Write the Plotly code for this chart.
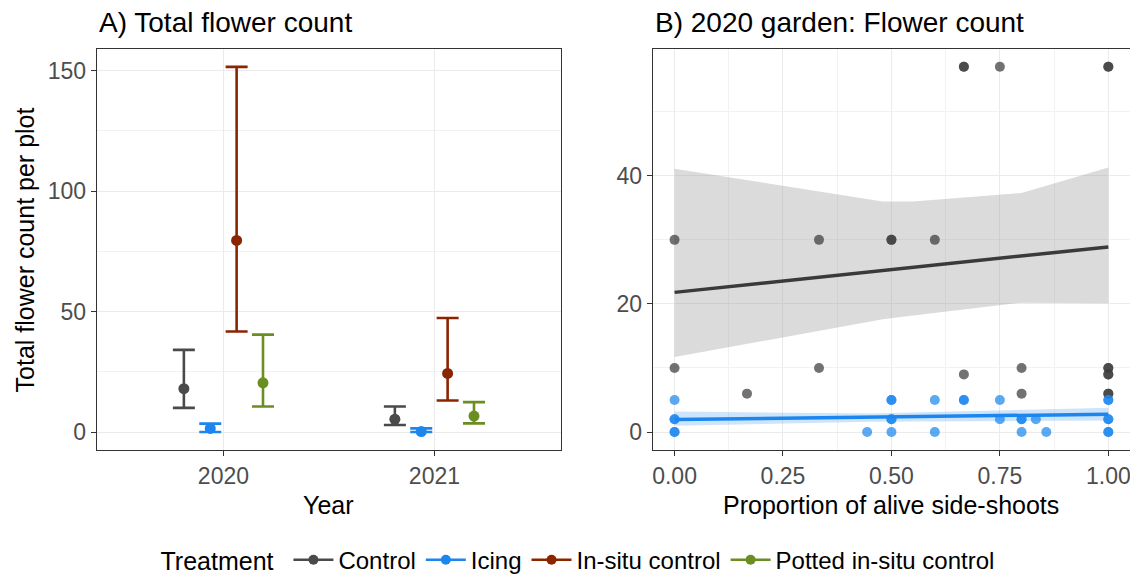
import plotly.graph_objects as go

# ---------------- Data ----------------
treatments = ["Control", "Icing", "In-situ control", "Potted in-situ control"]
colors = ["#4A4A4A", "#1C86EE", "#8B2500", "#6B8E23"]
years = ["2020", "2021"]

# Panel A: mean and interval per treatment (2020, 2021)
mean_vals = {
    "Control": [18.0, 5.3],
    "Icing": [1.5, 0.2],
    "In-situ control": [79.5, 24.3],
    "Potted in-situ control": [20.4, 6.6],
}
upper_vals = {
    "Control": [34.1, 10.6],
    "Icing": [3.5, 1.5],
    "In-situ control": [151.5, 47.3],
    "Potted in-situ control": [40.4, 12.4],
}
lower_vals = {
    "Control": [10.0, 2.9],
    "Icing": [0.0, 0.0],
    "In-situ control": [41.7, 13.1],
    "Potted in-situ control": [10.6, 3.6],
}
dodge = [-0.1875, -0.0625, 0.0625, 0.1875]

# Panel B: 2020 garden points
ctrl_x = [0, 0, 0.167, 0.333, 0.333, 0.5, 0.5, 0.6, 0.667, 0.667, 0.667, 0.75,
          0.8, 0.8, 1, 1, 1, 1, 1, 1, 1, 1]
ctrl_y = [30, 10, 6, 30, 10, 30, 30, 30, 57, 57, 9, 57,
          10, 6, 57, 57, 10, 10, 9, 9, 6, 6]
icing_x = [0, 0, 0, 0, 0, 0.444, 0.5, 0.5, 0.5, 0.5, 0.5, 0.6, 0.6, 0.667, 0.667,
           0.75, 0.75, 0.8, 0.8, 0.8, 0.833, 0.857, 1, 1, 1, 1, 1, 1]
icing_y = [5, 2, 2, 0, 0, 0, 5, 5, 2, 2, 0, 5, 0, 5, 5,
           5, 2, 2, 2, 0, 2, 0, 5, 5, 2, 2, 0, 0]

# Fitted lines and confidence bands
ctrl_fit_x = [0, 1]
ctrl_fit_y = [21.8, 28.9]
ctrl_band_x = [0, 0.48, 0.55, 0.8, 1.0]
ctrl_band_hi = [41.1, 36.0, 36.0, 37.3, 41.3]
ctrl_band_lo = [11.7, 17.6, 18.2, 20.2, 20.1]

icing_fit_x = [0, 1]
icing_fit_y = [1.95, 2.78]
icing_band_x = [0, 0.45, 1.0]
icing_band_hi = [3.2, 2.9, 3.8]
icing_band_lo = [1.0, 1.6, 1.8]

FONT = "Liberation Sans, Arial, sans-serif"

fig = go.Figure()

# ---------------- Panel A ----------------
for i, t in enumerate(treatments):
    xs = [j + 1 + dodge[i] for j in range(len(years))]
    m = mean_vals[t]
    up = [u - v for u, v in zip(upper_vals[t], m)]
    lo = [v - l for v, l in zip(m, lower_vals[t])]
    fig.add_trace(go.Scatter(
        x=xs, y=m, mode="markers", xaxis="x", yaxis="y",
        marker=dict(color=colors[i], size=11),
        error_y=dict(type="data", symmetric=False, array=up, arrayminus=lo,
                     color=colors[i], thickness=2.6, width=11),
        showlegend=False, hoverinfo="x+y",
    ))

# ---------------- Panel B ----------------
def add_band(bx, hi, lo, fill):
    fig.add_trace(go.Scatter(x=bx, y=hi, mode="lines", line=dict(width=0),
                             xaxis="x2", yaxis="y2", showlegend=False, hoverinfo="skip"))
    fig.add_trace(go.Scatter(x=bx, y=lo, mode="lines", line=dict(width=0),
                             fill="tonexty", fillcolor=fill,
                             xaxis="x2", yaxis="y2", showlegend=False, hoverinfo="skip"))

add_band(ctrl_band_x, ctrl_band_hi, ctrl_band_lo, "rgba(153,153,153,0.35)")
add_band(icing_band_x, icing_band_hi, icing_band_lo, "rgba(28,134,238,0.22)")

fig.add_trace(go.Scatter(x=ctrl_x, y=ctrl_y, mode="markers", xaxis="x2", yaxis="y2",
                         marker=dict(color="rgba(60,60,60,0.72)", size=10),
                         showlegend=False))
fig.add_trace(go.Scatter(x=icing_x, y=icing_y, mode="markers", xaxis="x2", yaxis="y2",
                         marker=dict(color="rgba(28,134,238,0.72)", size=10),
                         showlegend=False))
fig.add_trace(go.Scatter(x=ctrl_fit_x, y=ctrl_fit_y, mode="lines", xaxis="x2", yaxis="y2",
                         line=dict(color="#3A3A3A", width=3.5), showlegend=False))
fig.add_trace(go.Scatter(x=icing_fit_x, y=icing_fit_y, mode="lines", xaxis="x2", yaxis="y2",
                         line=dict(color="#1C86EE", width=3.5), showlegend=False))

# ---------------- Legend entries ----------------
for i, t in enumerate(treatments):
    fig.add_trace(go.Scatter(x=[None], y=[None], mode="lines+markers", name=t,
                             xaxis="x", yaxis="y",
                             line=dict(color=colors[i], width=2.5),
                             marker=dict(color=colors[i], size=10)))

# The page body has an 8px margin: place everything relative to it.
OFF = 8
W, H = 1130, 575


def px(xr):
    return (xr - OFF) / W


def py(yr):
    return 1 - (yr - OFF) / H


yd = [py(455), py(49)]
axis_common = dict(
    showline=True, mirror=True, linecolor="#333333", linewidth=1.2,
    ticks="outside", ticklen=5, tickcolor="#333333", tickwidth=1,
    gridcolor="#EBEBEB", gridwidth=1, zeroline=False,
    tickfont=dict(family=FONT, size=23, color="#4D4D4D"),
)

fig.update_layout(
    width=W, height=H,
    margin=dict(l=0, r=0, t=0, b=0),
    paper_bgcolor="white", plot_bgcolor="white",
    font=dict(family=FONT, color="black"),
    xaxis=dict(domain=[px(96), px(561)], range=[0.4, 2.6],
               tickvals=[1, 2], ticktext=years, anchor="y", **axis_common),
    yaxis=dict(domain=yd, range=[-7.6, 159.1], tickvals=[0, 50, 100, 150],
               anchor="x",
               minor=dict(tickvals=[25, 75, 125], showgrid=True,
                          gridcolor="#F2F2F2", gridwidth=0.6, ticks=""),
               **axis_common),
    xaxis2=dict(domain=[px(653), px(1131)], range=[-0.05, 1.05],
                tickvals=[0, 0.25, 0.5, 0.75, 1.0],
                ticktext=["0.00", "0.25", "0.50", "0.75", "1.00"], anchor="y2",
                minor=dict(tickvals=[0.125, 0.375, 0.625, 0.875], showgrid=True,
                           gridcolor="#F2F2F2", gridwidth=0.6, ticks=""),
                **axis_common),
    yaxis2=dict(domain=yd, range=[-2.85, 59.85], tickvals=[0, 20, 40], anchor="x2",
                minor=dict(tickvals=[10, 30, 50], showgrid=True,
                           gridcolor="#F2F2F2", gridwidth=0.6, ticks=""),
                **axis_common),
    legend=dict(orientation="h", x=px(579), xanchor="center", y=py(566),
                yanchor="middle", traceorder="normal", itemwidth=40,
                title=dict(text="Treatment ", font=dict(family=FONT, size=25, color="black")),
                font=dict(family=FONT, size=24, color="black"),
                bgcolor="rgba(0,0,0,0)"),
    showlegend=True,
)

annos = [
    dict(text="A) Total flower count", x=px(96), y=py(23), xanchor="left",
         yanchor="middle", font=dict(size=28)),
    dict(text="B) 2020 garden: Flower count", x=px(653), y=py(23), xanchor="left",
         yanchor="middle", font=dict(size=28)),
    dict(text="Year", x=px(328.5), y=py(510), xanchor="center", yanchor="middle",
         font=dict(size=25)),
    dict(text="Proportion of alive side-shoots", x=px(892), y=py(510),
         xanchor="center", yanchor="middle", font=dict(size=25)),
    dict(text="Total flower count per plot", x=px(24), y=py(252), xanchor="center",
         yanchor="middle", textangle=-90, font=dict(size=25)),
]
for a in annos:
    a.update(xref="paper", yref="paper", showarrow=False)
    a["font"].update(family=FONT, color="black")
fig.update_layout(annotations=annos)

fig.write_html("out.html")
